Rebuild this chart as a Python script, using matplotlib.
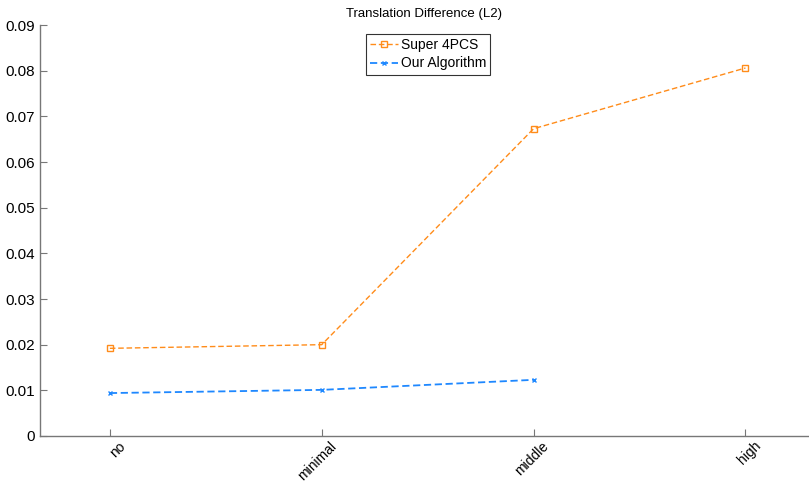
import matplotlib
matplotlib.use("Agg")
from matplotlib import pyplot as plt
from matplotlib.transforms import ScaledTranslation

levels = ["no", "minimal", "middle", "high"]
super4pcs = [0.0192, 0.0200, 0.0673, 0.0806]
ours = [0.0094, 0.0101, 0.0123]

plt.rcParams["font.family"] = ["Liberation Sans", "DejaVu Sans"]

fig = plt.figure(figsize=(8.09, 4.84), dpi=100)
ax = fig.add_axes([0.0494, 0.0992, 0.9506, 0.849])

pos = list(range(1, len(levels) + 1))
ax.plot(pos, super4pcs, color="#ff8c1a", linestyle="--", dashes=(4, 2), lw=1.0,
        marker="s", markersize=4, markerfacecolor="none", markeredgewidth=1.0,
        label="Super 4PCS")
ax.plot(pos[:len(ours)], ours, color="#1e88ff", linestyle="--", dashes=(4, 2), lw=1.3,
        marker="x", markersize=3, markeredgewidth=1.0, label="Our Algorithm")

ax.set_xlim(0.67, 4.3)
ax.set_ylim(0, 0.09)
ax.set_xticks(pos)
ax.set_yticks([i / 100 for i in range(10)])
ax.set_yticklabels(["0"] + ["%.2f" % (i / 100) for i in range(1, 10)], fontsize=11)
ax.tick_params(direction="in", length=5, color="#777777", width=0.8)
ax.tick_params(axis="x", pad=2)
ax.set_xticklabels(levels, rotation=45, ha="right", rotation_mode="anchor", fontsize=10)

# nudge rotated labels so their end sits just right of the tick
shift = ScaledTranslation(8 / 100, 0, fig.dpi_scale_trans)
for lbl in ax.get_xticklabels():
    lbl.set_transform(lbl.get_transform() + shift)

for s in ["top", "right"]:
    ax.spines[s].set_visible(False)
for s in ["left", "bottom"]:
    ax.spines[s].set_color("#777777")
    ax.spines[s].set_linewidth(1.0)

ax.set_title("Translation Difference (L2)", fontsize=9.5, pad=6)
leg = ax.legend(loc="upper center", bbox_to_anchor=(0.505, 0.978), fontsize=10,
                frameon=True, fancybox=False, handlelength=2.0, borderpad=0.3,
                labelspacing=0.3, handletextpad=0.2, borderaxespad=0)
leg.get_frame().set_edgecolor("black")
leg.get_frame().set_linewidth(0.8)

fig.savefig("out.png", dpi=100)
